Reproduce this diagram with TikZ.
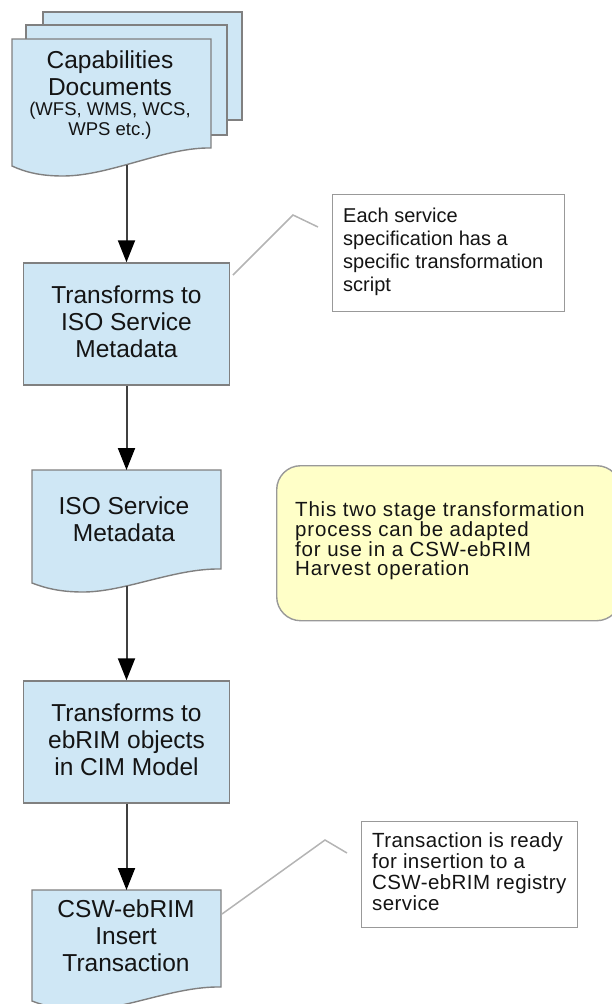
\documentclass[tikz,border=0pt]{standalone}
\usepackage{fontspec}
\setmainfont{Liberation Sans}
\usetikzlibrary{arrows.meta}

\definecolor{docblue}{HTML}{CFE7F5}
\definecolor{docedge}{HTML}{808080}
\definecolor{noteedge}{HTML}{999999}
\definecolor{notefill}{HTML}{FFFFC8}
\definecolor{flowline}{HTML}{404040}
\definecolor{leaderline}{HTML}{B4B4B4}
\definecolor{inktext}{HTML}{141414}

\begin{document}
\begin{tikzpicture}[x=1pt,y=-1pt,
  shapefill/.style={fill=docblue, draw=docedge, line width=1.4pt, line join=miter},
  procbox/.style={shapefill, rectangle, minimum width=206pt, minimum height=122pt,
    inner sep=0pt, align=center, text=inktext, font=\fontsize{24.5}{26.7}\selectfont},
  doctext/.style={align=center, text=inktext, inner sep=0pt, font=\fontsize{24.5}{27}\selectfont},
  flow/.style={draw=flowline, line width=2pt, -{Triangle[length=22pt,width=17pt,black]}},
  leader/.style={draw=leaderline, line width=1.5pt},
  notebox/.style={rectangle, draw=noteedge, fill=white, line width=1.4pt, inner sep=0pt, anchor=north west},
  sticky/.style={rectangle, rounded corners=24pt, draw=noteedge, fill=notefill, line width=1.4pt,
    inner sep=0pt, anchor=north west},
  notetext/.style={align=left, text=inktext, inner sep=0pt, anchor=west}
]
\useasboundingbox (0,0) rectangle (612,1004);

% stack of capability documents
\draw[shapefill] (43,12) rectangle (242,120);
\draw[shapefill] (26,25) rectangle (227,135);
\draw[shapefill] (12,39) -- (211,39) -- (211,148)
  .. controls (165,147) and (110,176) .. (63,176)
  .. controls (40,176) and (25,172) .. (12,166) -- cycle;
\node[doctext] (cap) at (110,73) {Capabilities\\Documents};
\node[doctext, font=\fontsize{18.5}{19.5}\selectfont] (capsub) at (110,120.5) {(WFS, WMS, WCS,\\WPS etc.)};
\coordinate (capout) at (126.5,165);

% first transformation step
\node[procbox] (t1) at (126.5,324) {Transforms to\\ISO Service\\Metadata\vphantom{g}};

% ISO service metadata document
\draw[shapefill] (32,470) -- (221,470) -- (221,569)
  .. controls (175,568) and (125,592) .. (83,592)
  .. controls (60,592) and (45,588) .. (32,583) -- cycle;
\node[doctext] (iso) at (124,519) {ISO Service\\Metadata};
\coordinate (isoin) at (126.5,470);
\coordinate (isoout) at (126.5,586);

% second transformation step
\node[procbox] (t2) at (126.5,742) {Transforms to\\ebRIM objects\\in CIM Model\vphantom{g}};

% insert transaction document
\draw[shapefill] (32,890) -- (221,890) -- (221,987)
  .. controls (175,986) and (125,1010) .. (83,1010)
  .. controls (60,1010) and (45,1006) .. (32,1001) -- cycle;
\node[doctext] (csw) at (126,936) {CSW-ebRIM\\Insert\\Transaction};
\coordinate (cswin) at (126.5,890);

% flow arrows
\draw[flow] (capout) -- (t1.north);
\draw[flow] (t1.south) -- (isoin);
\draw[flow] (isoout) -- (t2.north);
\draw[flow] (t2.south) -- (cswin);

% annotation on the first step
\node[notebox, minimum width=232pt, minimum height=117pt] (n1) at (332,194) {};
\node[notetext, font=\fontsize{20}{23}\selectfont] (n1t) at (343,252)
  {Each service\\specification has a\\specific transformation\\script};
\coordinate (l1a) at (233,275);
\coordinate (l1b) at (293,215);
\coordinate (l1c) at (318,227);
\draw[leader] (l1a) -- (l1b) -- (l1c);

% general remark
\node[sticky, minimum width=344pt, minimum height=155pt] (rem) at (276,465) {};
\node[notetext, font=\addfontfeatures{LetterSpace=4}\fontsize{20.5}{19}\selectfont] (remt) at (295,541)
  {This two stage transformation\\process can be adapted\\for use in a CSW-ebRIM\\Harvest operation};

% annotation on the insert transaction
\node[notebox, minimum width=216pt, minimum height=106pt] (n2) at (361,821) {};
\node[notetext, font=\addfontfeatures{LetterSpace=2}\fontsize{20.5}{21}\selectfont] (n2t) at (372,872)
  {Transaction is ready\\for insertion to a\\CSW-ebRIM registry\\service};
\coordinate (l2a) at (222,914);
\coordinate (l2b) at (325,840);
\coordinate (l2c) at (347,853);
\draw[leader] (l2a) -- (l2b) -- (l2c);
\end{tikzpicture}
\end{document}
